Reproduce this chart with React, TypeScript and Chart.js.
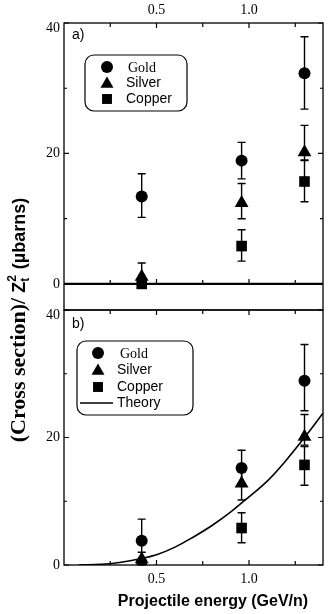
import React, { useEffect, useRef } from 'react';
import { Chart, registerables } from 'chart.js';

Chart.register(...registerables);

const W = 331;
const H = 614;

// Projectile energies (GeV/n)
const energies = [0.42, 0.96, 1.3];

// Panel a) data (µbarns)
const goldA = [13.4, 18.9, 32.3];
const goldAHi = [16.9, 21.7, 37.9];
const goldALo = [10.2, 16.1, 26.8];
const silverA = [1.1, 12.4, 20.2];
const silverAHi = [3.2, 15.4, 24.3];
const silverALo = [0, 10.0, 18.9];
const copperA = [0, 5.8, 15.7];
const copperAHi = [0, 8.3, 19.0];
const copperALo = [0, 3.5, 12.6];

// Panel b) data (µbarns)
const goldB = [3.8, 15.2, 28.9];
const goldBHi = [7.2, 18.0, 34.6];
const goldBLo = [0.4, 12.6, 24.2];
const silverB = [0.9, 12.8, 20.1];
const silverBHi = [2.0, 15.3, 23.6];
const silverBLo = [0, 10.2, 18.8];
const copperB = [0, 5.8, 15.7];
const copperBHi = [0, 8.2, 18.6];
const copperBLo = [0, 3.5, 12.5];

// Theory curve (panel b)
const theoryX = [0.08, 0.2, 0.3, 0.4, 0.5, 0.6, 0.7, 0.8, 0.9, 1.0, 1.1, 1.2, 1.3, 1.4];
const theoryY = [0, 0.1, 0.4, 0.9, 1.6, 2.8, 4.4, 6.2, 8.3, 10.7, 13.2, 16.4, 20.0, 23.8];

// Axes
const xTicks = [0.5, 1.0];
const xTickLabels = ['0.5', '1.0'];
const xMinorTicks = [0.25, 0.5, 0.75, 1.0, 1.25];
const yTicks = [0, 20, 40];
const yTickLabels = ['0', '20', '40'];
const yMinorTicks = [10, 30];

const legendLabels = ['Gold', 'Silver', 'Copper', 'Theory'];
const panelLabels = ['a)', 'b)'];
const xTitle = 'Projectile energy (GeV/n)';

const SERIF = '"Liberation Serif", "Times New Roman", serif';
const SANS = '"Liberation Sans", Arial, sans-serif';

function marker(ctx: CanvasRenderingContext2D, style: string, x: number, y: number, r: number) {
  ctx.beginPath();
  if (style === 'circle') {
    ctx.arc(x, y, r, 0, Math.PI * 2);
  } else if (style === 'triangle') {
    const w = r * 0.866;
    ctx.moveTo(x, y - r);
    ctx.lineTo(x + w, y + r * 0.5);
    ctx.lineTo(x - w, y + r * 0.5);
    ctx.closePath();
  } else {
    const s = r * Math.SQRT1_2;
    ctx.rect(x - s, y - s, 2 * s, 2 * s);
  }
  ctx.fill();
}

function roundBox(ctx: CanvasRenderingContext2D, x: number, y: number, w: number, h: number, r: number) {
  ctx.beginPath();
  ctx.moveTo(x + r, y);
  ctx.lineTo(x + w - r, y);
  ctx.arcTo(x + w, y, x + w, y + r, r);
  ctx.lineTo(x + w, y + h - r);
  ctx.arcTo(x + w, y + h, x + w - r, y + h, r);
  ctx.lineTo(x + r, y + h);
  ctx.arcTo(x, y + h, x, y + h - r, r);
  ctx.lineTo(x, y + r);
  ctx.arcTo(x, y, x + r, y, r);
  ctx.closePath();
  ctx.fillStyle = '#fff';
  ctx.fill();
  ctx.lineWidth = 1.2;
  ctx.strokeStyle = '#000';
  ctx.stroke();
}

const panelPlugin = {
  id: 'panelPlugin',
  beforeDatasetsDraw(chart: any) {
    const ctx = chart.ctx as CanvasRenderingContext2D;
    ctx.save();
    ctx.strokeStyle = '#000';
    ctx.lineWidth = 1.4;
    chart.data.datasets.forEach((ds: any, i: number) => {
      if (!ds.errHi) return;
      const meta = chart.getDatasetMeta(i);
      const sc = chart.scales[ds.yAxisID];
      meta.data.forEach((pt: any, j: number) => {
        const hi = ds.errHi[j];
        const lo = ds.errLo[j];
        if (hi === lo) return;
        const yh = sc.getPixelForValue(hi);
        const yl = sc.getPixelForValue(lo);
        const x = pt.x;
        ctx.beginPath();
        ctx.moveTo(x, yh);
        ctx.lineTo(x, yl);
        ctx.moveTo(x - 4, yh);
        ctx.lineTo(x + 4, yh);
        ctx.moveTo(x - 4, yl);
        ctx.lineTo(x + 4, yl);
        ctx.stroke();
      });
    });
    ctx.restore();
  },
  afterDatasetsDraw(chart: any) {
    const ctx = chart.ctx as CanvasRenderingContext2D;
    const { left, right } = chart.chartArea;
    const xs = chart.scales.x;
    const ya = chart.scales.ya;
    const yb = chart.scales.yb;
    ctx.save();
    ctx.strokeStyle = '#000';
    ctx.fillStyle = '#000';

    // frames
    ctx.lineWidth = 1.3;
    ctx.strokeRect(left, ya.top, right - left, ya.bottom - ya.top);
    ctx.strokeRect(left, yb.top, right - left, yb.bottom - yb.top);

    // zero line in panel a
    const y0 = ya.getPixelForValue(0);
    ctx.lineWidth = 2.4;
    ctx.beginPath();
    ctx.moveTo(left, y0);
    ctx.lineTo(right, y0);
    ctx.stroke();

    // ticks
    ctx.lineWidth = 1.2;
    ctx.beginPath();
    const yPanel = (sc: any) => {
      yTicks.forEach((v) => {
        const p = sc.getPixelForValue(v);
        ctx.moveTo(left, p); ctx.lineTo(left + 5, p);
        ctx.moveTo(right, p); ctx.lineTo(right - 5, p);
      });
      yMinorTicks.forEach((v) => {
        const p = sc.getPixelForValue(v);
        ctx.moveTo(left, p); ctx.lineTo(left + 3, p);
        ctx.moveTo(right, p); ctx.lineTo(right - 3, p);
      });
    };
    yPanel(ya);
    yPanel(yb);
    xMinorTicks.forEach((v) => {
      const p = xs.getPixelForValue(v);
      const len = xTicks.includes(v) ? 5 : 4;
      ctx.moveTo(p, ya.top); ctx.lineTo(p, ya.top + len);
      ctx.moveTo(p, y0); ctx.lineTo(p, y0 - len);
      ctx.moveTo(p, yb.top); ctx.lineTo(p, yb.top + len);
      ctx.moveTo(p, yb.bottom); ctx.lineTo(p, yb.bottom - len);
    });
    ctx.stroke();

    // panel labels
    ctx.font = `14px ${SANS}`;
    ctx.textBaseline = 'middle';
    ctx.textAlign = 'left';
    ctx.fillText(panelLabels[0], left + 8, ya.top + 12);
    ctx.fillText(panelLabels[1], left + 8, yb.top + 14);

    // legend a
    roundBox(ctx, left + 21, ya.top + 32, 102, 56, 9);
    ctx.fillStyle = '#000';
    const la = [ya.top + 44, ya.top + 60, ya.top + 76];
    marker(ctx, 'circle', left + 43, la[0], 6);
    marker(ctx, 'triangle', left + 43, la[1] + 1, 7.5);
    marker(ctx, 'rect', left + 43, la[2], 7);
    ctx.font = `14px ${SERIF}`;
    ctx.fillText(legendLabels[0], left + 64, la[0] + 1);
    ctx.font = `14px ${SANS}`;
    ctx.fillText(legendLabels[1], left + 62, la[1]);
    ctx.fillText(legendLabels[2], left + 62, la[2]);

    // legend b
    roundBox(ctx, left + 13, yb.top + 31, 116, 74, 9);
    ctx.fillStyle = '#000';
    const lb = [yb.top + 43, yb.top + 60, yb.top + 77, yb.top + 93];
    marker(ctx, 'circle', left + 34, lb[0], 6);
    marker(ctx, 'triangle', left + 34, lb[1] + 1, 7.5);
    marker(ctx, 'rect', left + 34, lb[2], 7);
    ctx.lineWidth = 1.5;
    ctx.beginPath();
    ctx.moveTo(left + 16, lb[3]);
    ctx.lineTo(left + 49, lb[3]);
    ctx.stroke();
    ctx.font = `14px ${SERIF}`;
    ctx.fillText(legendLabels[0], left + 56, lb[0] + 1);
    ctx.font = `14px ${SANS}`;
    ctx.fillText(legendLabels[1], left + 53, lb[1]);
    ctx.fillText(legendLabels[2], left + 53, lb[2]);
    ctx.fillText(legendLabels[3], left + 53, lb[3]);

    ctx.restore();
  },
  afterDraw(chart: any) {
    const ctx = chart.ctx as CanvasRenderingContext2D;
    ctx.save();
    ctx.fillStyle = '#000';
    // x title
    ctx.font = `bold 16px ${SANS}`;
    ctx.textAlign = 'center';
    ctx.textBaseline = 'middle';
    ctx.fillText(xTitle, 213, 602);

    // y title with sub/superscript
    const f1 = `bold 22px ${SERIF}`;
    const f2 = `bold 18px ${SANS}`;
    const f3 = `bold 12px ${SANS}`;
    const s1 = '(Cross section)/';
    const s2 = 'Z';
    const sSub = 't';
    const sSup = '2';
    const s5 = ' (\u00b5barns)';
    ctx.font = f1; const w1 = ctx.measureText(s1).width;
    ctx.font = f2; const w2 = ctx.measureText(s2).width; const w5 = ctx.measureText(s5).width;
    ctx.font = f3; const w3 = Math.max(ctx.measureText(sSub).width, ctx.measureText(sSup).width);
    const gap = 5;
    const total = w1 + gap + w2 + w3 + 1 + w5;
    ctx.translate(18, 320);
    ctx.rotate(-Math.PI / 2);
    ctx.textAlign = 'left';
    ctx.textBaseline = 'alphabetic';
    let u = -total / 2;
    const base = 7;
    ctx.font = f1; ctx.fillText(s1, u, base); u += w1 + gap;
    ctx.font = f2; ctx.fillText(s2, u, base); u += w2;
    ctx.font = f3; ctx.fillText(sSub, u, base + 4); ctx.fillText(sSup, u, base - 9); u += w3 + 1;
    ctx.font = f2; ctx.fillText(s5, u, base);
    ctx.restore();
  },
};

export default function App() {
  const ref = useRef<HTMLCanvasElement>(null);

  useEffect(() => {
    const canvas = ref.current;
    if (!canvas) return;
    const pts = (ys: number[]) => energies.map((e, i) => ({ x: e, y: ys[i] }));
    const mk = (label: string, ys: number[], hi: number[], lo: number[], style: string, r: number, axis: string) => ({
      label,
      data: pts(ys),
      errHi: hi,
      errLo: lo,
      xAxisID: 'x',
      yAxisID: axis,
      pointStyle: style,
      pointRadius: r,
      backgroundColor: '#000',
      borderColor: '#000',
      borderWidth: 0,
      showLine: false,
    });
    const tickFont = { family: SERIF, size: 14 };
    const xCommon = {
      type: 'linear',
      min: 0,
      max: 1.4,
      grid: { display: false, drawTicks: false },
      border: { display: false },
      afterBuildTicks: (s: any) => { s.ticks = xTicks.map((v) => ({ value: v })); },
      ticks: { font: tickFont, color: '#000', callback: (_v: any, i: number) => xTickLabels[i] },
    };
    const lastY = yTicks.length - 1;
    const yCommon = (min: number) => ({
      type: 'linear',
      position: 'left',
      stack: 'panels',
      min,
      max: 40,
      grid: { display: false, drawTicks: false },
      border: { display: false },
      afterBuildTicks: (s: any) => { s.ticks = yTicks.map((v) => ({ value: v })); },
      afterFit: (s: any) => { s.width = 64; },
      ticks: {
        // the top label sits a little below its tick, as in the original figure
        font: (c: any) => (c.index === lastY ? { family: SERIF, size: 14, lineHeight: 0.72 } : tickFont),
        color: '#000',
        padding: 4,
        callback: (_v: any, i: number) => (i === lastY ? ['', yTickLabels[i]] : yTickLabels[i]),
      },
    });

    const chart = new Chart(canvas, {
      type: 'scatter',
      data: {
        datasets: [
          mk(legendLabels[2], copperA, copperAHi, copperALo, 'rect', 7.5, 'ya'),
          mk(legendLabels[1], silverA, silverAHi, silverALo, 'triangle', 8, 'ya'),
          mk(legendLabels[0], goldA, goldAHi, goldALo, 'circle', 6, 'ya'),
          {
            label: legendLabels[3],
            type: 'line',
            data: theoryX.map((x, i) => ({ x, y: theoryY[i] })),
            xAxisID: 'x',
            yAxisID: 'yb',
            borderColor: '#000',
            borderWidth: 1.6,
            pointRadius: 0,
            tension: 0.4,
            fill: false,
          },
          mk(legendLabels[2], copperB, copperBHi, copperBLo, 'rect', 7.5, 'yb'),
          mk(legendLabels[1], silverB, silverBHi, silverBLo, 'triangle', 8, 'yb'),
          mk(legendLabels[0], goldB, goldBHi, goldBLo, 'circle', 6, 'yb'),
        ] as any,
      },
      options: {
        responsive: false,
        animation: false,
        events: [],
        layout: { padding: { top: 0, left: 0, right: 2, bottom: 0 } },
        plugins: { legend: { display: false }, tooltip: { enabled: false } },
        scales: {
          x: {
            ...xCommon,
            position: 'bottom',
            afterFit: (s: any) => { s.height = 49; },
            ticks: { ...xCommon.ticks, padding: 6 },
          },
          x2: {
            ...xCommon,
            position: 'top',
            afterFit: (s: any) => { s.height = 23; },
            ticks: { ...xCommon.ticks, padding: 4 },
          },
          ya: { ...yCommon(-4), stackWeight: 287, weight: 1 },
          yb: { ...yCommon(0), stackWeight: 255, weight: 0 },
        } as any,
      },
      plugins: [panelPlugin],
    } as any);
    return () => chart.destroy();
  }, []);

  return (
    <div style={{ position: 'fixed', left: 0, top: 0, width: W, height: H, background: '#fff' }}>
      <canvas ref={ref} width={W} height={H} style={{ width: W, height: H, display: 'block' }} />
    </div>
  );
}
